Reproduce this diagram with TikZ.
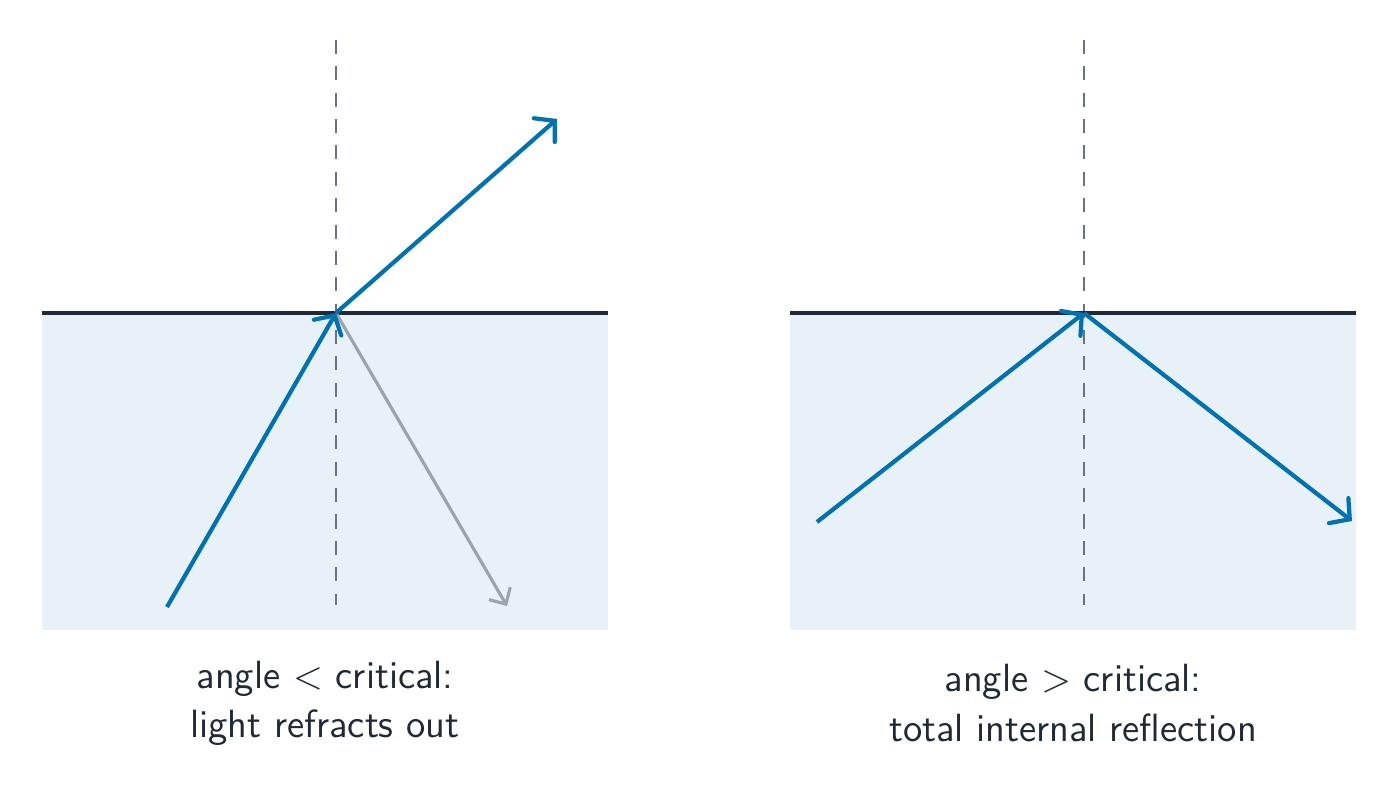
\documentclass[tikz,border=0pt]{standalone}
\usepackage{tikz}
\usetikzlibrary{arrows.meta}
\definecolor{rayblue}{HTML}{0072B2}
\definecolor{waterfill}{HTML}{E8F0F8}
\definecolor{inkdark}{HTML}{1F2937}
\definecolor{raygray}{HTML}{9CA3AF}
\definecolor{normgray}{HTML}{6B7280}
\begin{document}
\begin{tikzpicture}[x=1cm,y=1cm]
    \tikzstyle{ray}     = [line width=1.2pt,draw=rayblue,-{Straight Barb[length=4pt,width=9pt,line cap=round]}]
    \tikzstyle{weak}    = [line width=0.9pt,draw=raygray,-{Straight Barb[length=3.5pt,width=7pt]}]
    \tikzstyle{normal}  = [line width=0.8pt,draw=normgray,dash pattern=on 4pt off 3.5pt]
    \tikzstyle{surface} = [line width=1.3pt,draw=inkdark]
    \tikzstyle{caption} = [align=center,text=inkdark,font=\sffamily\fontsize{11.2}{14}\selectfont]
    \useasboundingbox (0,0) rectangle (13.99,8.02);

    % left panel
    \fill[waterfill] (0.42,1.72) rectangle (6.08,4.89);
    \coordinate (lt) at (3.36,7.62);
    \coordinate (lb) at (3.36,1.97);
    \coordinate (lp) at (3.36,4.89);
    \coordinate (la) at (1.67,1.95);
    \coordinate (lr) at (5.57,6.83);
    \coordinate (lw) at (5.07,1.96);
    \coordinate (ll) at (0.42,4.89);
    \coordinate (lrr) at (6.08,4.89);
    \draw[normal] (lt) -- (lb);
    \draw[surface] (ll) -- (lrr);
    \draw[weak] (lp) -- (lw);
    \draw[ray] (la) -- (lp);
    \draw[ray] (lp) -- (lr);
    \node[caption] (lcap) at (3.25,0.99) {angle $<$ critical:\\light refracts out};

    % right panel
    \fill[waterfill] (7.90,1.72) rectangle (13.56,4.89);
    \coordinate (rt) at (10.84,7.62);
    \coordinate (rb) at (10.84,1.97);
    \coordinate (rp) at (10.84,4.89);
    \coordinate (ra) at (8.17,2.80);
    \coordinate (rr) at (13.52,2.81);
    \coordinate (rl) at (7.90,4.89);
    \coordinate (rrr) at (13.56,4.89);
    \draw[normal] (rt) -- (rb);
    \draw[surface] (rl) -- (rrr);
    \draw[ray] (ra) -- (rp);
    \draw[ray] (rp) -- (rr);
    \node[caption] (rcap) at (10.73,0.99) {angle $>$ critical:\\total internal reflection};
\end{tikzpicture}
\end{document}
